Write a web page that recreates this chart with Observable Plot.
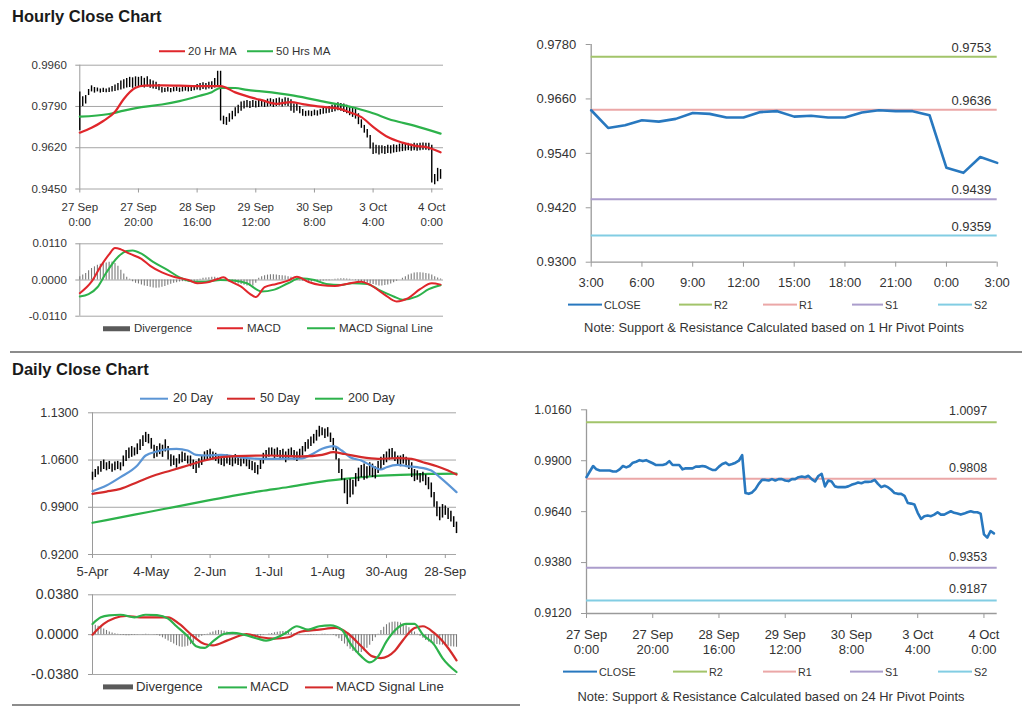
<!DOCTYPE html>
<html><head><meta charset="utf-8">
<script src="https://cdn.jsdelivr.net/npm/d3@7"></script>
<script src="https://cdn.jsdelivr.net/npm/@observablehq/plot@0.6"></script>
<style>
body{margin:0;background:#fff;font-family:"Liberation Sans",Arial,Helvetica,sans-serif;color:#333;}
#root{position:relative;width:1024px;height:706px;overflow:hidden;background:#fff;}
.abs{position:absolute;white-space:nowrap;}
.title{font-weight:bold;font-size:16.5px;color:#1a1a1a;}
</style></head><body><div id="root"></div>
<script>
// ---------------- DATA ----------------
// Hourly bars (index 0 = 27 Sep 0:00, hourly, weekend skipped)
const hourlyLow = [
0.9690,0.9790,0.9800,0.9835,0.9850,0.9845,0.9850,0.9845,0.9848,0.9846,
0.9848,0.9850,0.9852,0.9855,0.9858,0.9862,0.9866,0.9868,0.9865,0.9870,
0.9868,0.9872,0.9866,0.9870,0.9865,0.9862,0.9860,0.9855,0.9845,0.9848,
0.9850,0.9846,0.9850,0.9852,0.9848,0.9850,0.9853,0.9850,0.9852,0.9855,
0.9858,0.9855,0.9860,0.9858,0.9862,0.9860,0.9866,0.9870,0.9730,0.9715,
0.9712,0.9725,0.9735,0.9748,0.9760,0.9770,0.9780,0.9785,0.9782,0.9786,
0.9784,0.9786,0.9788,0.9786,0.9788,0.9790,0.9786,0.9790,0.9792,0.9788,
0.9792,0.9790,0.9770,0.9762,0.9770,0.9760,0.9750,0.9748,0.9750,0.9748,
0.9752,0.9750,0.9755,0.9758,0.9760,0.9762,0.9765,0.9768,0.9772,0.9770,
0.9765,0.9760,0.9752,0.9745,0.9738,0.9715,0.9700,0.9680,0.9660,0.9615,
0.9592,0.9595,0.9590,0.9595,0.9592,0.9596,0.9594,0.9598,0.9600,0.9602,
0.9604,0.9606,0.9608,0.9605,0.9608,0.9606,0.9608,0.9610,0.9610,0.9608,
0.9475,0.9468,0.9480,0.9490];
const hourlyHigh = [
0.9850,0.9830,0.9835,0.9860,0.9875,0.9868,0.9866,0.9862,0.9865,0.9862,
0.9866,0.9872,0.9878,0.9885,0.9895,0.9900,0.9905,0.9910,0.9908,0.9912,
0.9910,0.9913,0.9906,0.9912,0.9900,0.9895,0.9890,0.9880,0.9868,0.9865,
0.9868,0.9864,0.9868,0.9870,0.9866,0.9870,0.9872,0.9868,0.9872,0.9875,
0.9880,0.9885,0.9888,0.9885,0.9890,0.9892,0.9905,0.9935,0.9935,0.9750,
0.9745,0.9760,0.9770,0.9785,0.9795,0.9808,0.9812,0.9815,0.9810,0.9815,
0.9812,0.9816,0.9818,0.9814,0.9820,0.9822,0.9818,0.9822,0.9825,0.9820,
0.9826,0.9824,0.9818,0.9800,0.9800,0.9790,0.9778,0.9770,0.9772,0.9770,
0.9775,0.9772,0.9778,0.9782,0.9785,0.9790,0.9795,0.9800,0.9805,0.9802,
0.9800,0.9795,0.9790,0.9785,0.9778,0.9760,0.9735,0.9712,0.9695,0.9670,
0.9640,0.9630,0.9628,0.9628,0.9625,0.9630,0.9628,0.9632,0.9630,0.9635,
0.9636,0.9635,0.9638,0.9634,0.9638,0.9636,0.9638,0.9640,0.9638,0.9638,
0.9630,0.9510,0.9535,0.9530];
const hrMA20Idx = [0,4,8,12,15,19,22,28,34,40,46,48,53,60,62,67,72,76,82,88,92,96,100,105,110,114,119,123];
const hrMA20 = [0.9682,0.9702,0.9730,0.9768,0.9821,0.9867,0.9876,0.9877,0.9876,0.9874,0.9874,0.9874,0.9848,0.9822,0.9816,0.9801,0.9808,0.9800,0.9789,0.9782,0.9766,0.9746,0.9706,0.9664,0.9641,0.9629,0.9620,0.9601];
const hrMA50Idx = [0,10,15,21,28,34,40,45,48,53,57,62,73,84,93,99,107,114,123];
const hrMA50 = [0.9748,0.9759,0.9773,0.9787,0.9798,0.9812,0.9831,0.9849,0.9867,0.9866,0.9858,0.9852,0.9835,0.9808,0.9787,0.9766,0.9732,0.9711,0.9678];
const hourTickIdx = [0,20,40,60,80,100,120];
const hourTickLabels = ["27 Sep\n0:00","27 Sep\n20:00","28 Sep\n16:00","29 Sep\n12:00","30 Sep\n8:00","3 Oct\n4:00","4 Oct\n0:00"];
const hourPriceTicks = [0.9450,0.9620,0.9790,0.9960];

// Hourly MACD
const hrMacdIdx = [0,4,7,10,12,14,17,21,24,28,32,37,40,43,47,49,51,55,58,60,63,67,71,74,78,82,87,91,96,99,104,108,112,116,120,123];
const hrMacd = [-0.0040,-0.0005,0.0040,0.0078,0.0097,0.0093,0.0080,0.0064,0.0043,0.0023,0.0010,0.0000,-0.0010,-0.0008,0.0003,0.0008,-0.0003,-0.0020,-0.0042,-0.0052,-0.0022,-0.0012,-0.0002,0.0010,-0.0006,-0.0015,-0.0018,-0.0012,-0.0005,-0.0015,-0.0045,-0.0065,-0.0055,-0.0028,-0.0010,-0.0014];
const hrSignalIdx = [0,3,6,9,13,16,18,21,25,30,34,39,43,48,53,57,62,66,71,75,80,84,89,93,98,102,107,110,115,119,123];
const hrSignal = [-0.0050,-0.0043,-0.0022,0.0022,0.0070,0.0088,0.0090,0.0080,0.0055,0.0030,0.0008,-0.0005,-0.0005,0.0000,-0.0002,-0.0010,-0.0035,-0.0030,-0.0010,0.0005,0.0000,-0.0012,-0.0015,-0.0010,-0.0012,-0.0030,-0.0050,-0.0060,-0.0050,-0.0028,-0.0016];
const hrDivergence = [
0.0010,0.0015,0.0020,0.0028,0.0035,0.0040,0.0045,0.0048,0.0050,0.0052,
0.0054,0.0055,0.0050,0.0042,0.0030,0.0018,0.0008,0.0002,-0.0005,-0.0010,
-0.0012,-0.0015,-0.0018,-0.0020,-0.0022,-0.0024,-0.0025,-0.0024,-0.0022,-0.0020,
-0.0016,-0.0013,-0.0010,-0.0008,-0.0006,-0.0005,-0.0005,-0.0006,-0.0006,-0.0005,
-0.0003,0.0002,0.0005,0.0006,0.0007,0.0008,0.0008,0.0006,0.0004,0.0002,
-0.0002,-0.0005,-0.0008,-0.0010,-0.0012,-0.0014,-0.0016,-0.0018,-0.0020,-0.0018,
-0.0010,0.0005,0.0010,0.0013,0.0015,0.0016,0.0016,0.0015,0.0014,0.0013,
0.0012,0.0010,0.0008,0.0004,0.0002,-0.0002,-0.0004,-0.0005,-0.0006,-0.0006,
-0.0005,-0.0005,-0.0004,-0.0003,-0.0002,-0.0002,-0.0001,0.0002,0.0003,0.0004,
0.0004,0.0003,0.0002,0.0001,-0.0002,-0.0004,-0.0006,-0.0008,-0.0010,-0.0012,
-0.0014,-0.0016,-0.0018,-0.0018,-0.0017,-0.0015,-0.0012,-0.0008,-0.0004,0.0000,
0.0005,0.0010,0.0015,0.0018,0.0021,0.0022,0.0022,0.0021,0.0020,0.0018,
0.0015,0.0010,0.0006,0.0003];
const hourMacdTicks = [-0.0110,0.0000,0.0110];

// Hourly support & resistance (3:00 to 3:00)
const srHourClose = [0.9635,0.9596,0.9602,0.9613,0.9610,0.9616,0.9629,0.9627,0.9619,0.9619,0.9631,0.9633,0.9621,0.9623,0.9619,0.9619,0.9630,0.9635,0.9633,0.9633,0.9624,0.9508,0.9497,0.9532,0.9519];
const srHourTickIdx = [0,3,6,9,12,15,18,21,24];
const srHourTickLabels = ["3:00","6:00","9:00","12:00","15:00","18:00","21:00","0:00","3:00"];
const srHourTicks = [0.9300,0.9420,0.9540,0.9660,0.9780];
const levelNames = ["R2","R1","S1","S2"];
const hourLevels = [0.9753,0.9636,0.9439,0.9359];
const levelColors = ["#a2c46a","#eba7a7","#ab9dcc","#82cde3"];
const closeColor = "#2878bf";

// Daily bars (trading days from 5-Apr)
const dailyLow = [
1.030,1.034,1.038,1.042,1.046,1.044,1.046,1.042,1.044,1.046,
1.044,1.050,1.058,1.062,1.064,1.066,1.068,1.074,1.080,1.086,
1.084,1.076,1.062,1.064,1.068,1.064,1.072,1.060,1.050,1.052,
1.048,1.054,1.056,1.058,1.054,1.050,1.046,1.040,1.048,1.052,
1.058,1.060,1.062,1.060,1.058,1.054,1.052,1.050,1.054,1.052,
1.050,1.054,1.052,1.050,1.054,1.050,1.046,1.044,1.040,1.038,
1.046,1.054,1.060,1.064,1.066,1.062,1.064,1.060,1.062,1.056,
1.060,1.064,1.060,1.058,1.062,1.066,1.072,1.076,1.080,1.084,
1.088,1.094,1.096,1.092,1.094,1.086,1.074,1.060,1.040,1.030,
1.010,0.994,1.004,1.008,1.020,1.028,1.034,1.030,1.032,1.036,
1.034,1.032,1.040,1.046,1.052,1.056,1.060,1.062,1.058,1.052,
1.050,1.054,1.050,1.046,1.034,1.028,1.030,1.026,1.028,1.022,
1.016,1.004,0.990,0.976,0.970,0.974,0.978,0.972,0.968,0.960,0.951];
const dailyHigh = [
1.042,1.046,1.050,1.058,1.060,1.056,1.058,1.054,1.057,1.058,
1.056,1.066,1.074,1.078,1.080,1.078,1.084,1.090,1.096,1.101,
1.098,1.092,1.082,1.080,1.084,1.082,1.090,1.080,1.068,1.066,
1.062,1.068,1.072,1.070,1.066,1.066,1.060,1.058,1.062,1.066,
1.072,1.074,1.076,1.072,1.070,1.068,1.064,1.066,1.068,1.064,
1.066,1.068,1.064,1.062,1.066,1.064,1.060,1.058,1.056,1.052,
1.062,1.070,1.074,1.078,1.078,1.076,1.078,1.074,1.076,1.072,
1.076,1.078,1.074,1.072,1.076,1.080,1.086,1.090,1.094,1.098,
1.104,1.110,1.108,1.106,1.108,1.100,1.092,1.080,1.062,1.046,
1.032,1.030,1.032,1.030,1.040,1.048,1.052,1.054,1.050,1.056,
1.054,1.050,1.058,1.064,1.068,1.072,1.076,1.077,1.072,1.066,
1.066,1.068,1.064,1.062,1.056,1.046,1.044,1.040,1.042,1.038,
1.034,1.026,1.012,0.998,0.990,0.994,0.992,0.988,0.984,0.976,0.968];
const ma20Idx = [0,5,10,16,19,23,26,30,34,37,41,46,50,55,60,64,70,75,78,82,86,89,92,96,99,103,105,109,112,116,121,124,130];
const ma20 = [1.0138,1.0222,1.0346,1.0520,1.0667,1.0726,1.0756,1.0766,1.0741,1.0677,1.0667,1.0677,1.0657,1.0627,1.0618,1.0618,1.0620,1.0625,1.0677,1.0766,1.0805,1.0741,1.0642,1.0593,1.0529,1.0460,1.0494,1.0529,1.0510,1.0494,1.0445,1.0346,1.0124];
const ma50Idx = [0,5,10,16,22,28,34,40,46,51,63,75,82,86,90,96,102,109,114,118,123,127,130];
const ma50 = [1.0099,1.0133,1.0173,1.0272,1.0370,1.0445,1.0519,1.0593,1.0642,1.0657,1.0667,1.0655,1.0677,1.0716,1.0690,1.0642,1.0618,1.0627,1.0618,1.0568,1.0509,1.0445,1.0385];
const ma200Idx = [0,10,20,30,40,50,60,70,80,90,100,110,120,130];
const ma200 = [0.967,0.975,0.983,0.991,0.999,1.007,1.014,1.020,1.027,1.032,1.036,1.038,1.0395,1.040];
const dayTickIdx = [0,21,42,63,84,105,126];
const dayTickLabels = ["5-Apr","4-May","2-Jun","1-Jul","1-Aug","30-Aug","28-Sep"];
const dayPriceTicks = [0.9200,0.9900,1.0600,1.1300];

// Daily MACD
const dMacdIdx = [0,3,6,10,15,19,23,27,30,34,37,40,43,47,50,54,59,62,66,69,73,77,81,85,89,92,96,99,102,105,109,112,115,118,122,125,130];
const dMacd = [0.0102,0.0165,0.0184,0.0190,0.0165,0.0190,0.0186,0.0153,0.0080,-0.0016,-0.0110,-0.0127,-0.0064,0.0006,0.0016,0.0000,-0.0038,-0.0057,-0.0025,0.0016,0.0080,0.0048,0.0080,0.0089,0.0048,-0.0080,-0.0207,-0.0264,-0.0207,-0.0064,0.0064,0.0102,0.0102,0.0000,-0.0095,-0.0223,-0.0356];
const dSignalIdx = [0,4,8,12,17,22,27,31,36,40,43,48,53,55,60,65,70,74,81,87,91,96,100,103,108,111,115,118,122,127,130];
const dSignal = [0.0000,0.0102,0.0159,0.0178,0.0165,0.0165,0.0165,0.0102,-0.0016,-0.0089,-0.0102,-0.0057,-0.0006,0.0006,-0.0025,-0.0038,-0.0025,0.0025,0.0048,0.0064,0.0016,-0.0110,-0.0207,-0.0223,-0.0153,-0.0048,0.0064,0.0080,0.0016,-0.0127,-0.0245];
const dDivergence = [
0.0095,0.0090,0.0080,0.0070,0.0055,0.0040,0.0025,0.0015,0.0008,0.0003,
-0.0005,-0.0008,-0.0010,-0.0010,-0.0008,-0.0005,-0.0003,0.0000,0.0002,0.0003,
0.0002,0.0000,-0.0003,-0.0008,-0.0015,-0.0030,-0.0045,-0.0060,-0.0075,-0.0090,
-0.0105,-0.0115,-0.0120,-0.0118,-0.0110,-0.0095,-0.0075,-0.0050,-0.0030,-0.0015,
-0.0005,0.0005,0.0015,0.0025,0.0035,0.0040,0.0038,0.0032,0.0025,0.0018,
0.0010,0.0004,0.0000,-0.0004,-0.0008,-0.0012,-0.0015,-0.0018,-0.0020,-0.0018,
-0.0012,-0.0006,0.0000,0.0006,0.0012,0.0018,0.0024,0.0028,0.0030,0.0028,
0.0024,0.0018,0.0012,0.0008,0.0004,0.0000,-0.0003,-0.0006,-0.0008,-0.0006,
-0.0003,0.0000,0.0003,0.0004,0.0002,-0.0002,-0.0008,-0.0020,-0.0040,-0.0065,
-0.0090,-0.0115,-0.0140,-0.0160,-0.0172,-0.0175,-0.0170,-0.0155,-0.0130,-0.0100,
-0.0065,-0.0030,0.0005,0.0040,0.0070,0.0095,0.0110,0.0118,0.0120,0.0118,
0.0112,0.0100,0.0085,0.0065,0.0045,0.0025,0.0005,-0.0015,-0.0035,-0.0055,
-0.0070,-0.0082,-0.0090,-0.0095,-0.0098,-0.0100,-0.0105,-0.0110,-0.0115,-0.0118,-0.0120];
const dayMacdTicks = [-0.0380,0.0000,0.0380];

// Daily support & resistance (hourly closes 27 Sep 0:00 .. 4 Oct 3:00)
const srDayClose = [
0.9816,0.9845,0.9873,0.9856,0.9850,0.9850,0.9850,0.9850,0.9845,0.9845,
0.9856,0.9873,0.9866,0.9873,0.9890,0.9895,0.9903,0.9898,0.9903,0.9895,
0.9887,0.9878,0.9878,0.9878,0.9883,0.9898,0.9878,0.9878,0.9878,0.9856,
0.9861,0.9861,0.9861,0.9870,0.9870,0.9873,0.9870,0.9861,0.9853,0.9853,
0.9870,0.9883,0.9890,0.9878,0.9883,0.9890,0.9900,0.9929,0.9735,0.9731,
0.9738,0.9755,0.9782,0.9802,0.9802,0.9799,0.9806,0.9799,0.9806,0.9806,
0.9799,0.9796,0.9806,0.9806,0.9816,0.9819,0.9816,0.9823,0.9806,0.9794,
0.9822,0.9833,0.9769,0.9799,0.9794,0.9769,0.9765,0.9765,0.9765,0.9769,
0.9777,0.9782,0.9789,0.9785,0.9792,0.9792,0.9794,0.9802,0.9782,0.9765,
0.9772,0.9765,0.9752,0.9735,0.9731,0.9731,0.9721,0.9684,0.9681,0.9676,
0.9634,0.9603,0.9617,0.9620,0.9617,0.9625,0.9637,0.9625,0.9625,0.9634,
0.9642,0.9634,0.9630,0.9625,0.9630,0.9637,0.9642,0.9637,0.9637,0.9630,
0.9524,0.9507,0.9541,0.9529];
const dayLevels = [1.0097,0.9808,0.9353,0.9187];
const daySRTicks = [0.9120,0.9380,0.9640,0.9900,1.0160];

// ---------------- HELPERS ----------------
const FONT = '"Liberation Sans", Arial, Helvetica, sans-serif';
const root = document.getElementById("root");
const GRID = "#a6a6a6", AXIS = "#9a9a9a";
const RED = "#e0262b", GREEN = "#2db24b", BLUE = "#5b95d5";
const pts = (idx, vals) => vals.map((v, k) => ({i: idx[k], v}));
const seq = (vals) => vals.map((v, i) => ({i, v}));
const lookup = (keys, labels) => { const m = new Map(keys.map((k, j) => [k, labels[j]])); return d => m.get(d); };
const fmt4 = d => d.toFixed(4);

function place(el, left, top) {
  el.style.position = "absolute"; el.style.left = left + "px"; el.style.top = top + "px";
  root.appendChild(el);
}
function style(fs) { return {fontFamily: FONT, fontSize: fs + "px", color: "#333", background: "transparent", overflow: "visible"}; }
function text(str, x, y, size, extra = {}) {
  const d = document.createElement("div");
  d.className = "abs"; d.textContent = str;
  Object.assign(d.style, {left: x + "px", top: y + "px", fontSize: size + "px", transform: "translateY(-50%)", lineHeight: "1"}, extra);
  root.appendChild(d); return d;
}
function legend(items, y, size, gap) {
  for (const it of items) {
    const d = document.createElement("div");
    d.className = "abs";
    Object.assign(d.style, {left: it.x + "px", top: y + "px", transform: "translateY(-50%)", display: "flex", alignItems: "center", fontSize: size + "px", lineHeight: "1", color: "#333"});
    const sw = document.createElement("span");
    Object.assign(sw.style, {display: "inline-block", width: it.w + "px", height: (it.h || 2) + "px", background: it.color, marginRight: gap + "px"});
    const t = document.createElement("span"); t.textContent = it.label;
    d.appendChild(sw); d.appendChild(t); root.appendChild(d);
  }
}
function hline(x, y, w, h, color) {
  const d = document.createElement("div");
  Object.assign(d.style, {position: "absolute", left: x + "px", top: y + "px", width: w + "px", height: h + "px", background: color});
  root.appendChild(d);
}

// ---------------- TITLES / SEPARATORS ----------------
const t1 = text("Hourly Close Chart", 12, 16, 16.5); t1.className = "abs title";
const t2 = text("Daily Close Chart", 12, 369, 16.5); t2.className = "abs title";
hline(10, 351, 1012, 2, "#8c8c8c");
hline(12, 703.5, 508, 2.5, "#8c8c8c");

// ---------------- 1. HOURLY PRICE ----------------
const hourBars = hourlyLow.map((lo, i) => ({i, lo, hi: hourlyHigh[i]}));
place(Plot.plot({
  width: 460, height: 200, marginLeft: 79.3, marginRight: 17, marginTop: 24.7, marginBottom: 51.5,
  x: {domain: [0, 124], axis: null}, y: {domain: [0.9450, 0.9960], axis: null},
  style: style(11.5),
  marks: [
    Plot.ruleY(hourPriceTicks, {stroke: GRID}),
    Plot.ruleX([0], {stroke: AXIS}),
    Plot.axisY({ticks: hourPriceTicks, tickFormat: fmt4, tickSize: 4, tickPadding: 9, stroke: AXIS, fontSize: 11.5, label: null}),
    Plot.axisX({ticks: hourTickIdx, tickFormat: lookup(hourTickIdx, hourTickLabels), tickSize: 4, tickPadding: 8, stroke: AXIS, fontSize: 11.5, lineHeight: 1.25, label: null}),
    Plot.ruleX(hourBars, {x: "i", y1: "lo", y2: "hi", stroke: "#000", strokeWidth: 1.4}),
    Plot.line(pts(hrMA50Idx, hrMA50), {x: "i", y: "v", stroke: GREEN, strokeWidth: 2.2, curve: "monotone-x"}),
    Plot.line(pts(hrMA20Idx, hrMA20), {x: "i", y: "v", stroke: RED, strokeWidth: 2.2, curve: "monotone-x"})
  ]
}), 0, 40);
legend([{label: "20 Hr MA", color: RED, x: 159, w: 26}, {label: "50 Hrs MA", color: GREEN, x: 247, w: 26}], 51.7, 11.5, 3);

// ---------------- 2. HOURLY MACD ----------------
place(Plot.plot({
  width: 460, height: 100, marginLeft: 79.3, marginRight: 17, marginTop: 13.3, marginBottom: 14.3,
  x: {domain: [0, 124], axis: null}, y: {domain: [-0.0110, 0.0110], axis: null},
  style: style(11.5),
  marks: [
    Plot.ruleY(hourMacdTicks, {stroke: GRID}),
    Plot.ruleX([0], {stroke: AXIS}),
    Plot.axisY({ticks: hourMacdTicks, tickFormat: fmt4, tickSize: 4, tickPadding: 9, stroke: AXIS, fontSize: 11.5, label: null}),
    Plot.ruleX(seq(hrDivergence), {x: "i", y1: 0, y2: "v", stroke: "#7a7a7a", strokeWidth: 1.1}),
    Plot.line(pts(hrSignalIdx, hrSignal), {x: "i", y: "v", stroke: GREEN, strokeWidth: 2, curve: "monotone-x"}),
    Plot.line(pts(hrMacdIdx, hrMacd), {x: "i", y: "v", stroke: RED, strokeWidth: 2, curve: "monotone-x"})
  ]
}), 0, 230);
legend([{label: "Divergence", color: "#5a5a5a", x: 103, w: 27, h: 5}, {label: "MACD", color: RED, x: 217, w: 26}, {label: "MACD Signal Line", color: GREEN, x: 307, w: 28}], 328.7, 11.5, 4);

// ---------------- 3. HOURLY S&R ----------------
const hourLevelData = hourLevels.map((v, k) => ({v, name: levelNames[k], color: levelColors[k]}));
place(Plot.plot({
  width: 524, height: 290, marginLeft: 90.7, marginRight: 27.3, marginTop: 24, marginBottom: 48.3,
  x: {domain: [0, 24], axis: null}, y: {domain: [0.9300, 0.9780], axis: null},
  color: {type: "identity"},
  style: style(13),
  marks: [
    Plot.ruleX([0], {stroke: AXIS, strokeWidth: 1.3}),
    Plot.ruleY([0.9300], {stroke: AXIS, strokeWidth: 1.3}),
    Plot.axisY({ticks: srHourTicks, tickFormat: fmt4, tickSize: 5, tickPadding: 10, stroke: AXIS, fontSize: 13, label: null}),
    Plot.axisX({ticks: srHourTickIdx, tickFormat: lookup(srHourTickIdx, srHourTickLabels), tickSize: 5, tickPadding: 11, stroke: AXIS, fontSize: 13, label: null}),
    Plot.ruleY(hourLevelData, {y: "v", stroke: "color", strokeWidth: 2}),
    Plot.text(hourLevelData, {y: "v", text: d => fmt4(d.v), frameAnchor: "right", textAnchor: "end", dx: -6, dy: -9, fontSize: 13, fill: "#333"}),
    Plot.line(seq(srHourClose), {x: "i", y: "v", stroke: closeColor, strokeWidth: 2.6})
  ]
}), 500, 20);
const srLegendH = [{label: "CLOSE", color: closeColor, x: 568, w: 34}, {label: "R2", color: levelColors[0], x: 679, w: 33}, {label: "R1", color: levelColors[1], x: 763, w: 34}, {label: "S1", color: levelColors[2], x: 852, w: 31}, {label: "S2", color: levelColors[3], x: 938, w: 34}];
legend(srLegendH, 305, 10.8, 2);
const n1 = text("Note: Support & Resistance Calculated based on 1 Hr Pivot Points", 774, 328.3, 12.9);
n1.style.transform = "translate(-50%,-50%)";

// ---------------- 5. DAILY PRICE ----------------
const dayBars = dailyLow.map((lo, i) => ({i, lo, hi: dailyHigh[i]}));
place(Plot.plot({
  width: 470, height: 200, marginLeft: 92, marginRight: 14, marginTop: 22.3, marginBottom: 36,
  x: {domain: [0, 130], axis: null}, y: {domain: [0.9200, 1.1300], axis: null},
  style: style(12.5),
  marks: [
    Plot.ruleY(dayPriceTicks, {stroke: GRID}),
    Plot.ruleX([0], {stroke: AXIS}),
    Plot.axisY({ticks: dayPriceTicks, tickFormat: fmt4, tickSize: 4, tickPadding: 10, stroke: AXIS, fontSize: 12.5, label: null}),
    Plot.axisX({ticks: dayTickIdx, tickFormat: lookup(dayTickIdx, dayTickLabels), tickSize: 4, tickPadding: 8, stroke: AXIS, fontSize: 13, label: null}),
    Plot.line(pts(ma200Idx, ma200), {x: "i", y: "v", stroke: GREEN, strokeWidth: 2.2, curve: "monotone-x"}),
    Plot.ruleX(dayBars, {x: "i", y1: "lo", y2: "hi", stroke: "#000", strokeWidth: 1.5}),
    Plot.line(pts(ma20Idx, ma20), {x: "i", y: "v", stroke: BLUE, strokeWidth: 2.2, curve: "monotone-x"}),
    Plot.line(pts(ma50Idx, ma50), {x: "i", y: "v", stroke: "#d42a2a", strokeWidth: 2.2, curve: "monotone-x"})
  ]
}), 0, 390);
legend([{label: "20 Day", color: BLUE, x: 140, w: 28}, {label: "50 Day", color: "#d42a2a", x: 227, w: 28}, {label: "200 Day", color: GREEN, x: 315, w: 28}], 398.3, 12.6, 5);

// ---------------- 6. DAILY MACD ----------------
place(Plot.plot({
  width: 470, height: 110, marginLeft: 92, marginRight: 14, marginTop: 14.3, marginBottom: 16,
  x: {domain: [0, 130], axis: null}, y: {domain: [-0.0380, 0.0380], axis: null},
  style: style(14),
  marks: [
    Plot.ruleY(dayMacdTicks, {stroke: GRID}),
    Plot.ruleX([0], {stroke: AXIS}),
    Plot.axisY({ticks: dayMacdTicks, tickFormat: fmt4, tickSize: 4, tickPadding: 10, stroke: AXIS, fontSize: 14, label: null}),
    Plot.ruleX(seq(dDivergence), {x: "i", y1: 0, y2: "v", stroke: "#7a7a7a", strokeWidth: 1.1}),
    Plot.line(pts(dSignalIdx, dSignal), {x: "i", y: "v", stroke: "#d42a2a", strokeWidth: 2.2, curve: "monotone-x"}),
    Plot.line(pts(dMacdIdx, dMacd), {x: "i", y: "v", stroke: GREEN, strokeWidth: 2.2, curve: "monotone-x"})
  ]
}), 0, 580);
legend([{label: "Divergence", color: "#5a5a5a", x: 103, w: 30, h: 5}, {label: "MACD", color: GREEN, x: 218, w: 29}, {label: "MACD Signal Line", color: "#d42a2a", x: 305, w: 28}], 687.3, 13.2, 3);

// ---------------- 7. DAILY S&R ----------------
const dayLevelData = dayLevels.map((v, k) => ({v, name: levelNames[k], color: levelColors[k]}));
place(Plot.plot({
  width: 524, height: 270, marginLeft: 86, marginRight: 27.3, marginTop: 19.3, marginBottom: 47,
  x: {domain: [0, 124], axis: null}, y: {domain: [0.9120, 1.0160], axis: null},
  color: {type: "identity"},
  style: style(12.5),
  marks: [
    Plot.ruleX([0], {stroke: AXIS, strokeWidth: 1.3}),
    Plot.ruleY([0.9120], {stroke: AXIS, strokeWidth: 1.3}),
    Plot.axisY({ticks: daySRTicks, tickFormat: fmt4, tickSize: 5, tickPadding: 10, stroke: AXIS, fontSize: 12.2, label: null}),
    Plot.axisX({ticks: hourTickIdx, tickFormat: lookup(hourTickIdx, hourTickLabels), tickSize: 5, tickPadding: 9, stroke: AXIS, fontSize: 13, lineHeight: 1.2, label: null}),
    Plot.ruleY(dayLevelData, {y: "v", stroke: "color", strokeWidth: 2}),
    Plot.text(dayLevelData, {y: "v", text: d => fmt4(d.v), frameAnchor: "right", textAnchor: "end", dx: -10, dy: -11, fontSize: 12.5, fill: "#333"}),
    Plot.line(seq(srDayClose), {x: "i", y: "v", stroke: closeColor, strokeWidth: 2.6})
  ]
}), 500, 390);
const srLegendD = [{label: "CLOSE", color: closeColor, x: 563, w: 34}, {label: "R2", color: levelColors[0], x: 673, w: 34}, {label: "R1", color: levelColors[1], x: 763, w: 33}, {label: "S1", color: levelColors[2], x: 850, w: 33}, {label: "S2", color: levelColors[3], x: 938, w: 34}];
legend(srLegendD, 671.7, 10.8, 2);
const n2 = text("Note: Support & Resistance Calculated based on 24 Hr Pivot Points", 771, 696.7, 12.9);
n2.style.transform = "translate(-50%,-50%)";
</script></body></html>
